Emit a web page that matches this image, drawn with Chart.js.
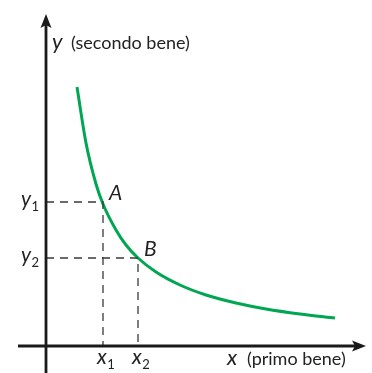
<!DOCTYPE html>
<html><head><meta charset="utf-8">
<script src="https://cdn.jsdelivr.net/npm/chart.js@4/dist/chart.umd.min.js"></script>
<style>html,body{margin:0;padding:0;background:#fff}canvas{display:block}</style>
</head><body>
<canvas id="c" width="372" height="373"></canvas>
<script>
// Indifference curve
const curveX = [31, 40, 50, 57, 70, 80, 92, 110, 134, 160, 190, 220, 254, 289];
const curveY = [259, 203, 162, 142, 116, 101, 88, 74, 61, 51, 43, 37, 32, 28];
// Points A and B
const pointNames = ['A', 'B'];
const pointX = [57, 92];
const pointY = [144, 88];
const xTickLabels = ['x1', 'x2'];
const yTickLabels = ['y1', 'y2'];
const xAxisTitle = '(primo bene)';
const yAxisTitle = '(secondo bene)';

const curve = curveX.map((x, i) => ({x, y: curveY[i]}));
const dashSets = pointX.map((x, i) => ({
  data: [{x: 0, y: pointY[i]}, {x, y: pointY[i]}, {x, y: 0}],
  showLine: true,
  borderColor: '#3a3a3a', borderWidth: 1.3, borderDash: [8, 6],
  pointRadius: 0, fill: false, tension: 0
}));

const F = 'Lato, "Open Sans", sans-serif';
function sub(ctx, main, subs, x, y, mainSize) {
  ctx.font = 'italic ' + mainSize + 'px ' + F;
  ctx.fillText(main, x, y);
  const w = ctx.measureText(main).width;
  ctx.font = Math.round(mainSize * 0.62) + 'px ' + F;
  ctx.fillText(subs, x + w + 0.5, y + 5);
}

const decor = {
  id: 'decor',
  afterDatasetsDraw(chart) {
    const ctx = chart.ctx, xs = chart.scales.x, ys = chart.scales.y;
    const ox = xs.getPixelForValue(0), oy = ys.getPixelForValue(0);
    ctx.save();
    ctx.strokeStyle = '#1a1a1a'; ctx.fillStyle = '#1a1a1a'; ctx.lineWidth = 2.8;
    // y axis
    const yTop = ys.getPixelForValue(332);
    ctx.beginPath(); ctx.moveTo(ox, chart.height); ctx.lineTo(ox, yTop + 8); ctx.stroke();
    ctx.beginPath(); ctx.moveTo(ox, yTop); ctx.lineTo(ox - 5.5, yTop + 14); ctx.lineTo(ox, yTop + 11); ctx.lineTo(ox + 5.5, yTop + 14); ctx.closePath(); ctx.fill();
    // x axis
    const xEnd = xs.getPixelForValue(320);
    ctx.beginPath(); ctx.moveTo(xs.getPixelForValue(-28), oy); ctx.lineTo(xEnd - 8, oy); ctx.stroke();
    ctx.beginPath(); ctx.moveTo(xEnd, oy); ctx.lineTo(xEnd - 14, oy - 5.5); ctx.lineTo(xEnd - 11, oy); ctx.lineTo(xEnd - 14, oy + 5.5); ctx.closePath(); ctx.fill();

    ctx.fillStyle = '#222';
    ctx.textBaseline = 'alphabetic'; ctx.textAlign = 'left';
    // axis titles
    ctx.font = 'italic 22px ' + F; ctx.fillText('y', ox + 6, yTop + 35);
    ctx.font = '18px ' + F; ctx.fillText(yAxisTitle, ox + 25, yTop + 35);
    const xt = xs.getPixelForValue(181);
    ctx.font = 'italic 22px ' + F; ctx.fillText('x', xt, oy + 19);
    ctx.font = '18px ' + F; ctx.fillText(xAxisTitle, xt + 20, oy + 19);
    // tick labels
    pointX.forEach((v, i) => {
      const px = xs.getPixelForValue(v);
      sub(ctx, xTickLabels[i][0], xTickLabels[i].slice(1), px - 6, oy + 18, 21);
    });
    pointY.forEach((v, i) => {
      const py = ys.getPixelForValue(v);
      sub(ctx, yTickLabels[i][0], yTickLabels[i].slice(1), ox - 25, py + 4, 21);
    });
    // point labels
    ctx.font = 'italic 21px ' + F;
    pointX.forEach((v, i) => {
      const px = xs.getPixelForValue(v), py = ys.getPixelForValue(pointY[i]);
      ctx.fillText(pointNames[i], px + 6, py - 2);
    });
    ctx.restore();
  }
};

new Chart(document.getElementById('c'), {
  type: 'scatter',
  data: {
    datasets: [
      ...dashSets,
      { data: curve, showLine: true, borderColor: '#00a651', borderWidth: 3,
        pointRadius: 0, cubicInterpolationMode: 'monotone', fill: false }
    ]
  },
  options: {
    responsive: false, devicePixelRatio: 1, animation: false,
    layout: { padding: 0 },
    plugins: { legend: { display: false }, tooltip: { enabled: false } },
    scales: {
      x: { type: 'linear', display: false, min: -46, max: 326 },
      y: { type: 'linear', display: false, min: -27, max: 346 }
    }
  },
  plugins: [decor]
});
</script>
</body></html>
